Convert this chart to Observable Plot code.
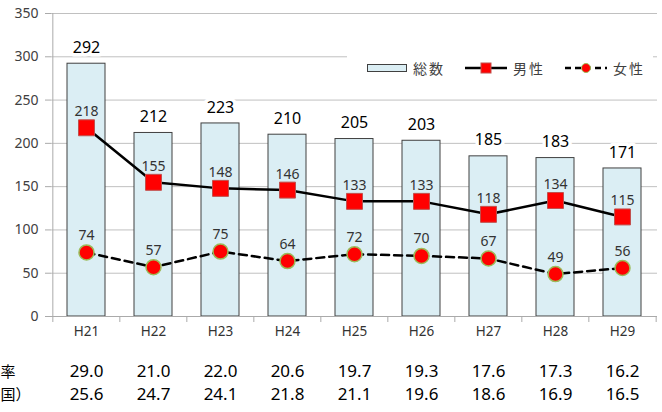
<!DOCTYPE html>
<html>
<head>
<meta charset="utf-8">
<script src="https://cdn.jsdelivr.net/npm/d3@7"></script>
<script src="https://cdn.jsdelivr.net/npm/@observablehq/plot@0.6"></script>
<style>
  html, body { margin: 0; padding: 0; background: #fff; }
  #wrap { position: relative; width: 662px; height: 412px; font-family: "Noto Sans", "Noto Sans CJK JP", sans-serif; }
  #legend { position: absolute; left: 347px; top: 51px; width: 306px; height: 34px; background: #fff;
            display: flex; align-items: center; font-size: 14px; color: #404040; font-family: "Noto Sans CJK JP", sans-serif; }
  #legend .item { display: flex; align-items: center; margin-left: 20px; }
  #legend .item span { margin-left: 6px; letter-spacing: 2px; }
</style>
</head>
<body>
<div id="wrap"></div>
<script>
const cats = ["H21","H22","H23","H24","H25","H26","H27","H28","H29"];
const total = [292,212,223,210,205,203,185,183,171];
const male = [218,155,148,146,133,133,118,134,115];
const female = [74,57,75,64,72,70,67,49,56];
const rate = ["29.0","21.0","22.0","20.6","19.7","19.3","17.6","17.3","16.2"];
const national = ["25.6","24.7","24.1","21.8","21.1","19.6","18.6","16.9","16.5"];
const rowLabels = ["率","国）"];
const yTicks = [0,50,100,150,200,250,300,350];
const seriesNames = ["総数","男性","女性"];

const data = cats.map((c,i) => ({cat:c, total: total[i], male: male[i], female: female[i], rate: rate[i], national: national[i]}));

const W = 662, H = 412, mL = 51, mR = 5, mT = 13, mB = 96;
const step = (W - mL - mR) / cats.length;
const font = "Noto Sans, Noto Sans CJK JP, sans-serif";

const chart = Plot.plot({
  width: W, height: H,
  marginLeft: mL, marginRight: mR, marginTop: mT, marginBottom: mB,
  style: {fontFamily: font, fontSize: "13px", background: "#fff", overflow: "visible"},
  x: {domain: cats, paddingInner: 0.44, paddingOuter: 0.22, label: null, axis: null},
  y: {domain: [0, 350], label: null},
  marks: [
    Plot.gridY(yTicks, {stroke: "#c0c0c0", strokeOpacity: 1}),
    Plot.axisY(yTicks, {tickSize: 6, tickPadding: 7, fontSize: 14, stroke: "#aaa", color: "#404040", label: null}),
    Plot.text(cats, {x: d => d, text: d => d, frameAnchor: "bottom", dy: 19, fontSize: 13.5, fill: "#333"}),
    Plot.barY(data, {x: "cat", y: "total", fill: "#dbeef4", stroke: "#404040", strokeWidth: 1}),
    Plot.ruleY([0], {stroke: "#aaa"}),
    Plot.ruleX(cats.slice(0,1), {x: d => d, y1: 0, y2: 350, dx: -step/2, stroke: "#aaa"}),
    Plot.ruleX(cats, {x: d => d, y1: 0, y2: 0, insetBottom: -6, dx: -step/2, stroke: "#aaa"}),
    Plot.ruleX(cats.slice(-1), {x: d => d, y1: 0, y2: 0, insetBottom: -6, dx: step/2, stroke: "#aaa"}),
    Plot.line(data, {x: "cat", y: "male", stroke: "#000", strokeWidth: 2.5}),
    Plot.line(data, {x: "cat", y: "female", stroke: "#000", strokeWidth: 2.5, strokeDasharray: "8,5"}),
    Plot.dot(data, {x: "cat", y: "male", symbol: "square", r: 9, fill: "#ff0000", stroke: "#c0504d", strokeWidth: 1}),
    Plot.dot(data, {x: "cat", y: "female", symbol: "circle", r: 7.5, fill: "#ff0000", stroke: "#9bbb59", strokeWidth: 1.5}),
    Plot.text(data, {x: "cat", y: "total", text: d => String(d.total), dy: -16, fontSize: 16, fill: "#000", stroke: "#fff", strokeWidth: 7}),
    Plot.text(data, {x: "cat", y: "male", text: d => String(d.male), dy: -16, fontSize: 14, fill: "#333"}),
    Plot.text(data, {x: "cat", y: "female", text: d => String(d.female), dy: -17, fontSize: 14, fill: "#333"}),
    Plot.text(data, {x: "cat", text: "rate", frameAnchor: "bottom", dy: 60, fontSize: 17, fill: "#000"}),
    Plot.text(data, {x: "cat", text: "national", frameAnchor: "bottom", dy: 83, fontSize: 17, fill: "#000"}),
    Plot.text(rowLabels.slice(0,1), {text: d => d, frameAnchor: "bottom-left", dx: -mL, dy: 60, textAnchor: "start", fontSize: 15, fill: "#000", fontFamily: "Noto Sans CJK JP"}),
    Plot.text(rowLabels.slice(1), {text: d => d, frameAnchor: "bottom-left", dx: -mL, dy: 83, textAnchor: "start", fontSize: 15, fill: "#000", fontFamily: "Noto Sans CJK JP"})
  ]
});

const wrap = document.getElementById("wrap");
wrap.appendChild(chart);

const legend = document.createElement("div");
legend.id = "legend";
legend.innerHTML = `
  <div class="item"><svg width="40" height="10"><rect x="0.5" y="1.5" width="39" height="7" fill="#dbeef4" stroke="#404040"/></svg><span>${seriesNames[0]}</span></div>
  <div class="item"><svg width="42" height="14"><line x1="0" y1="7" x2="42" y2="7" stroke="#000" stroke-width="2.5"/><rect x="16" y="2" width="10" height="10" fill="#ff0000" stroke="#c0504d"/></svg><span>${seriesNames[1]}</span></div>
  <div class="item"><svg width="42" height="14"><line x1="0" y1="7" x2="42" y2="7" stroke="#000" stroke-width="2.5" stroke-dasharray="6,4"/><circle cx="21" cy="7" r="4.5" fill="#ff0000" stroke="#9bbb59"/></svg><span>${seriesNames[2]}</span></div>`;
wrap.appendChild(legend);
</script>
</body>
</html>
